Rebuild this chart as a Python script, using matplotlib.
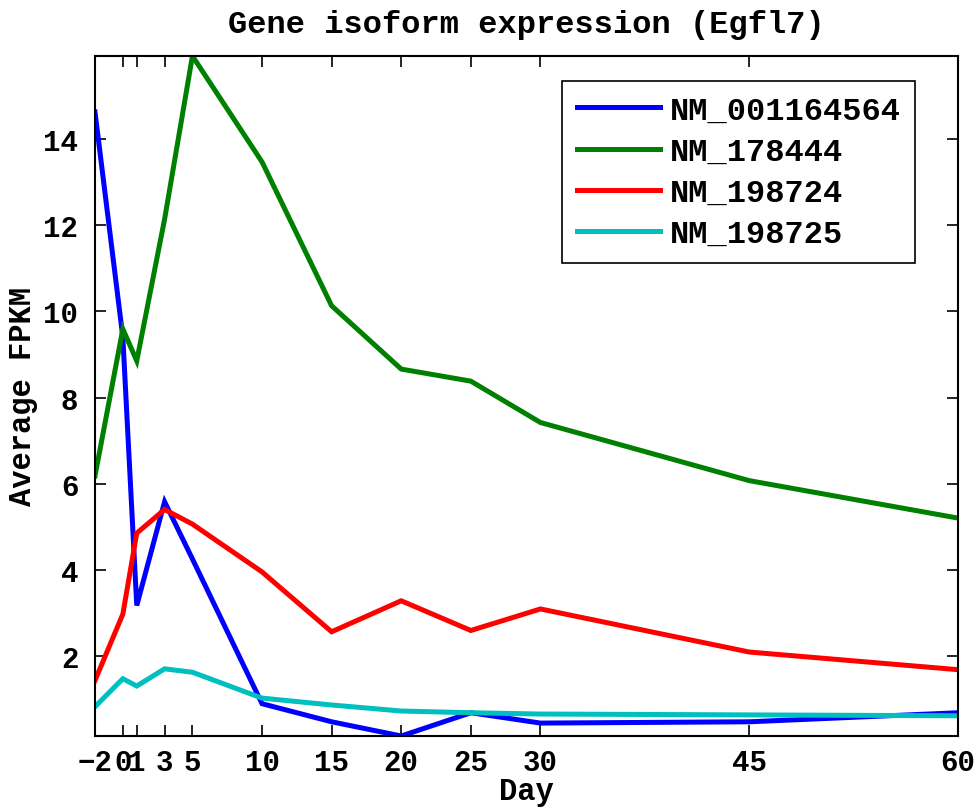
import numpy as np
import matplotlib
matplotlib.use("Agg")
import matplotlib.pyplot as plt

days = [-2, 0, 1, 3, 5, 10, 15, 20, 25, 30, 45, 60]
day_labels = ['-2', '0', '1', '3', '5', '10', '15', '20', '25', '30', '45', '60']

nm_001164564 = [14.63, 9.4, 3.17, 5.58, 4.25, 0.89, 0.47, 0.14, 0.68, 0.44, 0.47, 0.68]
nm_178444 = [6.18, 9.59, 8.85, 12.14, 15.93, 13.47, 10.13, 8.66, 8.38, 7.42, 6.07, 5.2]
nm_198724 = [1.43, 2.97, 4.85, 5.40, 5.06, 3.95, 2.56, 3.28, 2.59, 3.09, 2.09, 1.68]
nm_198725 = [0.82, 1.47, 1.30, 1.70, 1.62, 1.02, 0.86, 0.72, 0.68, 0.65, 0.63, 0.61]

series = [
    ('NM_001164564', nm_001164564, (0, 0, 1)),
    ('NM_178444', nm_178444, (0, 0.5, 0)),
    ('NM_198724', nm_198724, (1, 0, 0)),
    ('NM_198725', nm_198725, (0, 0.75, 0.75)),
]

plt.rcParams['font.family'] = ['Liberation Mono', 'DejaVu Sans Mono']
plt.rcParams['font.weight'] = 'bold'

fig = plt.figure(figsize=(9.8, 8.12), dpi=100)
ax = fig.add_axes([95 / 980, 1 - 737 / 812, 863 / 980, 680 / 812])

for name, vals, col in series:
    ax.plot(days, vals, color=col, lw=3.6, label=name, solid_joinstyle='miter')

# axis tight, like matlab
allv = np.concatenate([np.array(s[1]) for s in series])
ax.set_xlim(min(days), max(days))
ax.set_ylim(allv.min(), allv.max())

ax.set_xticks(days)
ax.set_xticklabels([l.replace('-', '\u2212') for l in day_labels])
ax.set_yticks([2, 4, 6, 8, 10, 12, 14])

ax.tick_params(direction='in', length=8, width=1.2, top=True, right=True,
               labelsize=21)
ax.tick_params(axis='x', pad=9)
ax.tick_params(axis='y', pad=12)
for lab in ax.get_xticklabels() + ax.get_yticklabels():
    lab.set_fontweight('bold')
for sp in ax.spines.values():
    sp.set_linewidth(1.5)

ax.set_title('Gene isoform expression (Egfl7)', fontsize=23, fontweight='bold', pad=17)
ax.set_xlabel('Day', fontsize=22, fontweight='bold', labelpad=0)
ax.set_ylabel('Average FPKM', fontsize=22, fontweight='bold', labelpad=4)

leg = ax.legend(loc='upper right', bbox_to_anchor=(0.950, 0.963), borderaxespad=0,
                fancybox=False, framealpha=1, edgecolor='black', fontsize=23,
                handlelength=2.6, labelspacing=0.35, handletextpad=0.3,
                borderpad=0.45)
leg.get_frame().set_linewidth(1.2)
for t in leg.get_texts():
    t.set_fontweight('bold')

fig.savefig('out.png', dpi=100)
